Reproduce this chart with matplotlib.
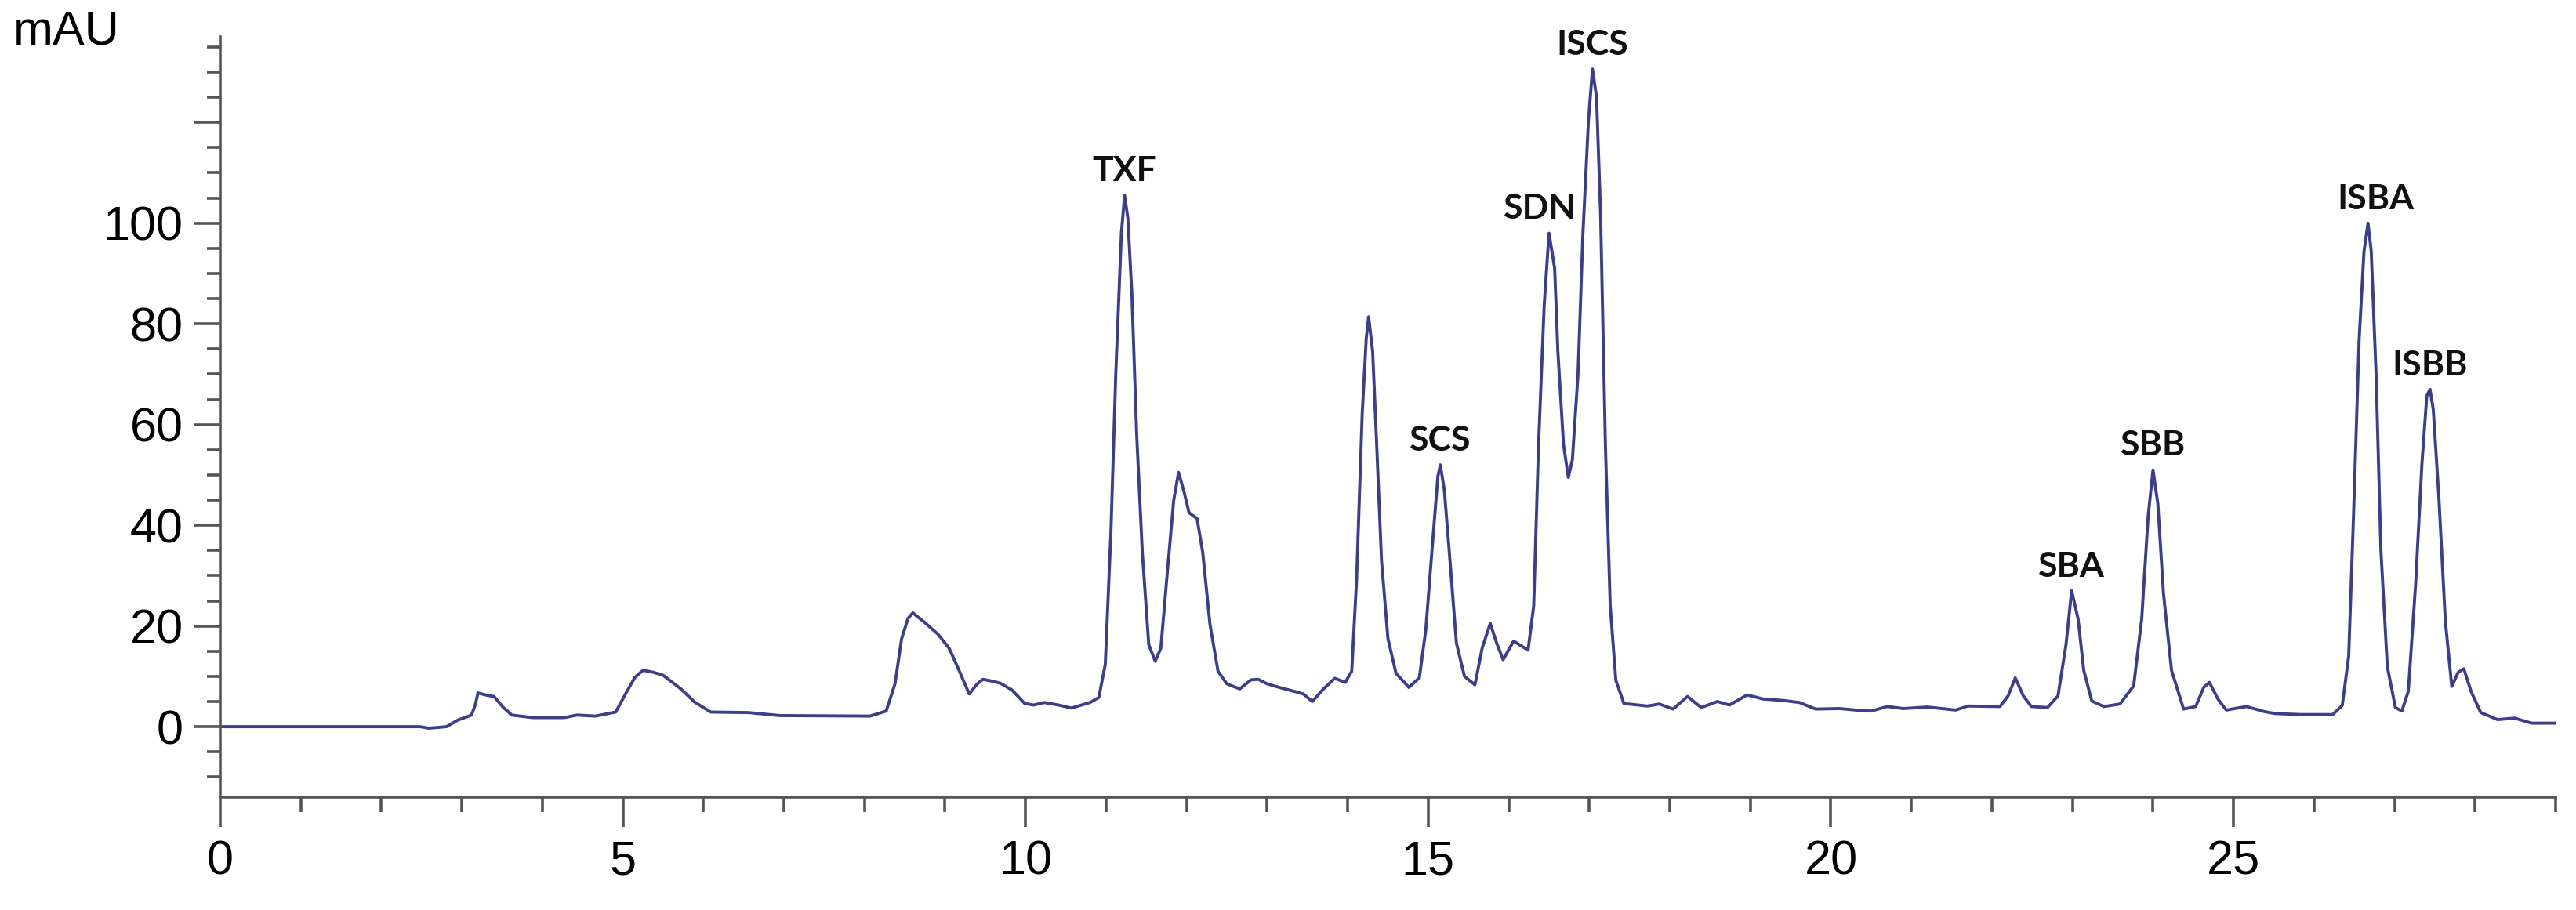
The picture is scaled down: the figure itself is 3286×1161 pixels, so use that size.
import matplotlib
matplotlib.use("Agg")
import matplotlib.pyplot as plt
from matplotlib.ticker import MultipleLocator, FixedLocator

# chromatogram trace (time in min, absorbance in mAU)
time_min = [
    0.00, 1.60, 2.48, 2.59, 2.81, 2.95, 3.12, 3.17, 3.20, 3.32, 3.40, 3.51, 3.62, 3.88,
    4.27, 4.43, 4.66, 4.91, 5.05, 5.15, 5.25, 5.38, 5.50, 5.72, 5.89, 6.09, 6.56, 6.95,
    8.07, 8.27, 8.38, 8.46, 8.54, 8.60, 8.74, 8.91, 9.05, 9.16, 9.30, 9.40, 9.47, 9.60,
    9.69, 9.83, 9.99, 10.10, 10.23, 10.41, 10.57, 10.80, 10.91, 10.99, 11.06, 11.12,
    11.19, 11.23, 11.27, 11.32, 11.38, 11.45, 11.53, 11.61, 11.68, 11.76, 11.84, 11.90,
    11.97, 12.03, 12.13, 12.20, 12.29, 12.39, 12.50, 12.66, 12.80, 12.89, 13.00, 13.15,
    13.34, 13.45, 13.56, 13.70, 13.84, 13.97, 14.05, 14.11, 14.18, 14.23, 14.26, 14.31,
    14.36, 14.42, 14.50, 14.60, 14.76, 14.89, 14.97, 15.06, 15.12, 15.15, 15.20, 15.27,
    15.35, 15.45, 15.58, 15.67, 15.77, 15.85, 15.93, 16.06, 16.16, 16.24, 16.31, 16.37,
    16.44, 16.50, 16.57, 16.61, 16.68, 16.74, 16.79, 16.86, 16.92, 16.99, 17.04, 17.09,
    17.14, 17.20, 17.26, 17.33, 17.43, 17.72, 17.87, 18.04, 18.22, 18.39, 18.59, 18.74,
    18.96, 19.16, 19.41, 19.61, 19.81, 20.11, 20.31, 20.50, 20.70, 20.90, 21.20, 21.55,
    21.70, 22.10, 22.20, 22.29, 22.39, 22.49, 22.69, 22.82, 22.92, 22.99, 23.07, 23.14,
    23.24, 23.39, 23.59, 23.76, 23.86, 23.94, 24.00, 24.06, 24.13, 24.23, 24.38, 24.53,
    24.63, 24.70, 24.81, 24.91, 25.16, 25.38, 25.52, 25.84, 26.23, 26.35, 26.43, 26.49,
    26.56, 26.62, 26.67, 26.71, 26.77, 26.83, 26.91, 27.01, 27.09, 27.17, 27.26, 27.34,
    27.40, 27.44, 27.48, 27.55, 27.63, 27.71, 27.79, 27.86, 27.95, 28.07, 28.28, 28.49,
    28.70, 29.00,
]
absorbance = [
    0.0, 0.0, 0.0, -0.3, 0.0, 1.3, 2.3, 4.5, 6.7, 6.2, 6.0, 3.9, 2.3, 1.8,
    1.8, 2.3, 2.1, 2.9, 7.0, 9.8, 11.2, 10.8, 10.2, 7.5, 4.9, 2.9, 2.8, 2.2,
    2.1, 3.1, 8.6, 17.4, 21.5, 22.6, 20.8, 18.4, 15.6, 11.7, 6.5, 8.5, 9.4, 9.0,
    8.6, 7.3, 4.6, 4.3, 4.8, 4.3, 3.7, 4.8, 5.8, 12.4, 38.6, 70.0,
    98.0, 105.5, 101.0, 86.0, 58.0, 34.6, 16.3, 13.0, 15.6, 30.6, 45.0, 50.5,
    46.5, 42.5, 41.3, 34.6, 20.3, 11.0, 8.5, 7.5, 9.3, 9.4, 8.5, 7.8,
    7.0, 6.5, 5.0, 7.5, 9.6, 8.8, 11.0, 29.0, 62.0, 77.0, 81.4, 74.5,
    56.0, 33.0, 17.5, 10.6, 7.8, 9.7, 19.3, 37.7, 49.7, 52.0, 47.0, 33.0,
    16.6, 10.0, 8.3, 15.6, 20.5, 16.6, 13.3, 17.0, 16.0, 15.2, 24.0, 56.0,
    83.7, 98.0, 91.0, 74.5, 56.0, 49.5, 53.0, 70.0, 97.5, 120.5, 130.6, 125.0,
    102.0, 56.0, 24.0, 9.2, 4.6, 4.1, 4.5, 3.5, 6.0, 3.8, 5.0, 4.3,
    6.3, 5.5, 5.2, 4.8, 3.5, 3.6, 3.3, 3.1, 4.0, 3.6, 3.9, 3.3,
    4.1, 4.0, 6.1, 9.7, 6.1, 4.0, 3.8, 6.1, 16.3, 27.0, 21.4, 11.2,
    5.1, 4.0, 4.5, 8.1, 21.4, 41.8, 51.0, 44.3, 26.5, 11.2, 3.5, 4.0,
    7.8, 8.8, 5.4, 3.3, 4.0, 3.0, 2.6, 2.4, 2.4, 4.2, 14.0, 42.0,
    77.0, 94.4, 100.0, 94.4, 70.0, 35.0, 11.9, 3.8, 3.1, 7.0, 28.0, 52.4,
    65.7, 67.0, 63.0, 45.5, 21.0, 8.0, 10.8, 11.5, 7.0, 2.8, 1.4, 1.7,
    0.7, 0.7,
]

# peak names and where they sit
peak_names = ["TXF", "SCS", "SDN", "ISCS", "SBA", "SBB", "ISBA", "ISBB"]
peak_time = [11.23, 15.15, 16.39, 17.04, 22.99, 24.00, 26.76, 27.44]
peak_height = [105.5, 52.0, 98.0, 130.6, 27.0, 51.0, 100.0, 67.0]

y_tick_labels = [0, 20, 40, 60, 80, 100]

axis_grey = "#555555"
line_col = "#3d3d8f"

fig = plt.figure(figsize=(16.43, 5.805), dpi=200)
ax = fig.add_axes([0.0855, 0.124, 0.9066, 0.8355])

ax.plot(time_min, absorbance, color=line_col, lw=1.4, solid_joinstyle="round")

for name, t, h in zip(peak_names, peak_time, peak_height):
    ax.annotate(name, (t, h), xytext=(0, 4), textcoords="offset points",
                ha="center", va="bottom", fontsize=16, fontweight="bold",
                family="Lato", color="#111111")

ax.set_xlim(0, 29)
ax.set_ylim(-14, 137)

for s in ["top", "right"]:
    ax.spines[s].set_visible(False)
for s in ["left", "bottom"]:
    ax.spines[s].set_color(axis_grey)
    ax.spines[s].set_linewidth(1.3)

ax.xaxis.set_major_locator(MultipleLocator(5))
ax.xaxis.set_minor_locator(MultipleLocator(1))
ax.yaxis.set_major_locator(FixedLocator([0, 20, 40, 60, 80, 100, 120]))
ax.yaxis.set_minor_locator(MultipleLocator(5))
ax.set_yticklabels([str(v) for v in y_tick_labels] + [""])

ax.tick_params(axis="x", which="major", length=13.5, width=1.3, color=axis_grey,
               pad=6, labelsize=22)
ax.tick_params(axis="x", which="minor", length=7, width=1.3, color=axis_grey)
ax.tick_params(axis="y", which="major", length=12, width=1.3, color=axis_grey,
               pad=5, labelsize=22)
ax.tick_params(axis="y", which="minor", length=6, width=1.3, color=axis_grey)
for lab in ax.get_xticklabels() + ax.get_yticklabels():
    lab.set_family("Liberation Sans")

fig.text(0.005, 0.965, "mAU", ha="left", va="center", fontsize=22,
         family="Liberation Sans")

fig.savefig("out.png", dpi=200, facecolor="white")
